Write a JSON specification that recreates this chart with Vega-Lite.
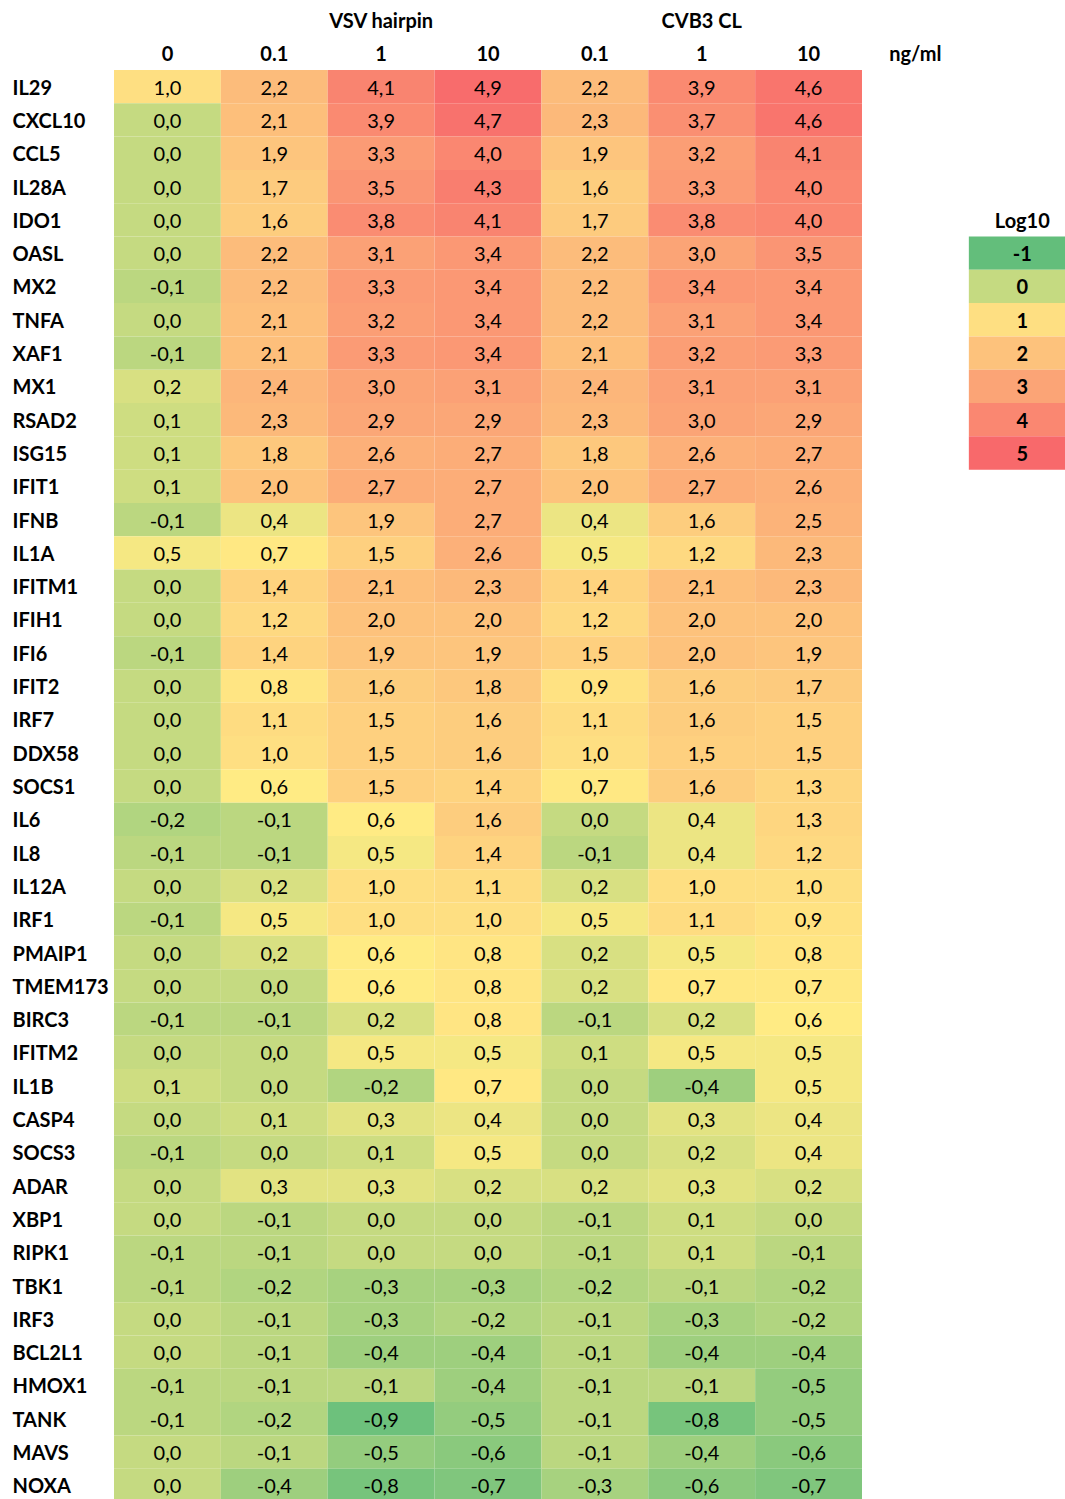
{
  "$schema": "https://vega.github.io/schema/vega-lite/v6.json",
  "autosize": {"type": "none"},
  "padding": {"left": 114, "top": 70, "right": 0, "bottom": 0},
  "width": 951,
  "height": 1429,
  "background": "white",
  "config": {
    "view": {"stroke": null},
    "font": "Lato",
    "locale": {"number": {"decimal": ",", "thousands": ".", "grouping": [3], "currency": ["", ""], "minus": "-"}}
  },
  "datasets": {
    "cells": [
      {"gene":"IL29","col":"VSV 0","value":1.0},{"gene":"IL29","col":"VSV 0.1","value":2.2},{"gene":"IL29","col":"VSV 1","value":4.1},{"gene":"IL29","col":"VSV 10","value":4.9},{"gene":"IL29","col":"CVB3 0.1","value":2.2},{"gene":"IL29","col":"CVB3 1","value":3.9},{"gene":"IL29","col":"CVB3 10","value":4.6},
      {"gene":"CXCL10","col":"VSV 0","value":0.0},{"gene":"CXCL10","col":"VSV 0.1","value":2.1},{"gene":"CXCL10","col":"VSV 1","value":3.9},{"gene":"CXCL10","col":"VSV 10","value":4.7},{"gene":"CXCL10","col":"CVB3 0.1","value":2.3},{"gene":"CXCL10","col":"CVB3 1","value":3.7},{"gene":"CXCL10","col":"CVB3 10","value":4.6},
      {"gene":"CCL5","col":"VSV 0","value":0.0},{"gene":"CCL5","col":"VSV 0.1","value":1.9},{"gene":"CCL5","col":"VSV 1","value":3.3},{"gene":"CCL5","col":"VSV 10","value":4.0},{"gene":"CCL5","col":"CVB3 0.1","value":1.9},{"gene":"CCL5","col":"CVB3 1","value":3.2},{"gene":"CCL5","col":"CVB3 10","value":4.1},
      {"gene":"IL28A","col":"VSV 0","value":0.0},{"gene":"IL28A","col":"VSV 0.1","value":1.7},{"gene":"IL28A","col":"VSV 1","value":3.5},{"gene":"IL28A","col":"VSV 10","value":4.3},{"gene":"IL28A","col":"CVB3 0.1","value":1.6},{"gene":"IL28A","col":"CVB3 1","value":3.3},{"gene":"IL28A","col":"CVB3 10","value":4.0},
      {"gene":"IDO1","col":"VSV 0","value":0.0},{"gene":"IDO1","col":"VSV 0.1","value":1.6},{"gene":"IDO1","col":"VSV 1","value":3.8},{"gene":"IDO1","col":"VSV 10","value":4.1},{"gene":"IDO1","col":"CVB3 0.1","value":1.7},{"gene":"IDO1","col":"CVB3 1","value":3.8},{"gene":"IDO1","col":"CVB3 10","value":4.0},
      {"gene":"OASL","col":"VSV 0","value":0.0},{"gene":"OASL","col":"VSV 0.1","value":2.2},{"gene":"OASL","col":"VSV 1","value":3.1},{"gene":"OASL","col":"VSV 10","value":3.4},{"gene":"OASL","col":"CVB3 0.1","value":2.2},{"gene":"OASL","col":"CVB3 1","value":3.0},{"gene":"OASL","col":"CVB3 10","value":3.5},
      {"gene":"MX2","col":"VSV 0","value":-0.1},{"gene":"MX2","col":"VSV 0.1","value":2.2},{"gene":"MX2","col":"VSV 1","value":3.3},{"gene":"MX2","col":"VSV 10","value":3.4},{"gene":"MX2","col":"CVB3 0.1","value":2.2},{"gene":"MX2","col":"CVB3 1","value":3.4},{"gene":"MX2","col":"CVB3 10","value":3.4},
      {"gene":"TNFA","col":"VSV 0","value":0.0},{"gene":"TNFA","col":"VSV 0.1","value":2.1},{"gene":"TNFA","col":"VSV 1","value":3.2},{"gene":"TNFA","col":"VSV 10","value":3.4},{"gene":"TNFA","col":"CVB3 0.1","value":2.2},{"gene":"TNFA","col":"CVB3 1","value":3.1},{"gene":"TNFA","col":"CVB3 10","value":3.4},
      {"gene":"XAF1","col":"VSV 0","value":-0.1},{"gene":"XAF1","col":"VSV 0.1","value":2.1},{"gene":"XAF1","col":"VSV 1","value":3.3},{"gene":"XAF1","col":"VSV 10","value":3.4},{"gene":"XAF1","col":"CVB3 0.1","value":2.1},{"gene":"XAF1","col":"CVB3 1","value":3.2},{"gene":"XAF1","col":"CVB3 10","value":3.3},
      {"gene":"MX1","col":"VSV 0","value":0.2},{"gene":"MX1","col":"VSV 0.1","value":2.4},{"gene":"MX1","col":"VSV 1","value":3.0},{"gene":"MX1","col":"VSV 10","value":3.1},{"gene":"MX1","col":"CVB3 0.1","value":2.4},{"gene":"MX1","col":"CVB3 1","value":3.1},{"gene":"MX1","col":"CVB3 10","value":3.1},
      {"gene":"RSAD2","col":"VSV 0","value":0.1},{"gene":"RSAD2","col":"VSV 0.1","value":2.3},{"gene":"RSAD2","col":"VSV 1","value":2.9},{"gene":"RSAD2","col":"VSV 10","value":2.9},{"gene":"RSAD2","col":"CVB3 0.1","value":2.3},{"gene":"RSAD2","col":"CVB3 1","value":3.0},{"gene":"RSAD2","col":"CVB3 10","value":2.9},
      {"gene":"ISG15","col":"VSV 0","value":0.1},{"gene":"ISG15","col":"VSV 0.1","value":1.8},{"gene":"ISG15","col":"VSV 1","value":2.6},{"gene":"ISG15","col":"VSV 10","value":2.7},{"gene":"ISG15","col":"CVB3 0.1","value":1.8},{"gene":"ISG15","col":"CVB3 1","value":2.6},{"gene":"ISG15","col":"CVB3 10","value":2.7},
      {"gene":"IFIT1","col":"VSV 0","value":0.1},{"gene":"IFIT1","col":"VSV 0.1","value":2.0},{"gene":"IFIT1","col":"VSV 1","value":2.7},{"gene":"IFIT1","col":"VSV 10","value":2.7},{"gene":"IFIT1","col":"CVB3 0.1","value":2.0},{"gene":"IFIT1","col":"CVB3 1","value":2.7},{"gene":"IFIT1","col":"CVB3 10","value":2.6},
      {"gene":"IFNB","col":"VSV 0","value":-0.1},{"gene":"IFNB","col":"VSV 0.1","value":0.4},{"gene":"IFNB","col":"VSV 1","value":1.9},{"gene":"IFNB","col":"VSV 10","value":2.7},{"gene":"IFNB","col":"CVB3 0.1","value":0.4},{"gene":"IFNB","col":"CVB3 1","value":1.6},{"gene":"IFNB","col":"CVB3 10","value":2.5},
      {"gene":"IL1A","col":"VSV 0","value":0.5},{"gene":"IL1A","col":"VSV 0.1","value":0.7},{"gene":"IL1A","col":"VSV 1","value":1.5},{"gene":"IL1A","col":"VSV 10","value":2.6},{"gene":"IL1A","col":"CVB3 0.1","value":0.5},{"gene":"IL1A","col":"CVB3 1","value":1.2},{"gene":"IL1A","col":"CVB3 10","value":2.3},
      {"gene":"IFITM1","col":"VSV 0","value":0.0},{"gene":"IFITM1","col":"VSV 0.1","value":1.4},{"gene":"IFITM1","col":"VSV 1","value":2.1},{"gene":"IFITM1","col":"VSV 10","value":2.3},{"gene":"IFITM1","col":"CVB3 0.1","value":1.4},{"gene":"IFITM1","col":"CVB3 1","value":2.1},{"gene":"IFITM1","col":"CVB3 10","value":2.3},
      {"gene":"IFIH1","col":"VSV 0","value":0.0},{"gene":"IFIH1","col":"VSV 0.1","value":1.2},{"gene":"IFIH1","col":"VSV 1","value":2.0},{"gene":"IFIH1","col":"VSV 10","value":2.0},{"gene":"IFIH1","col":"CVB3 0.1","value":1.2},{"gene":"IFIH1","col":"CVB3 1","value":2.0},{"gene":"IFIH1","col":"CVB3 10","value":2.0},
      {"gene":"IFI6","col":"VSV 0","value":-0.1},{"gene":"IFI6","col":"VSV 0.1","value":1.4},{"gene":"IFI6","col":"VSV 1","value":1.9},{"gene":"IFI6","col":"VSV 10","value":1.9},{"gene":"IFI6","col":"CVB3 0.1","value":1.5},{"gene":"IFI6","col":"CVB3 1","value":2.0},{"gene":"IFI6","col":"CVB3 10","value":1.9},
      {"gene":"IFIT2","col":"VSV 0","value":0.0},{"gene":"IFIT2","col":"VSV 0.1","value":0.8},{"gene":"IFIT2","col":"VSV 1","value":1.6},{"gene":"IFIT2","col":"VSV 10","value":1.8},{"gene":"IFIT2","col":"CVB3 0.1","value":0.9},{"gene":"IFIT2","col":"CVB3 1","value":1.6},{"gene":"IFIT2","col":"CVB3 10","value":1.7},
      {"gene":"IRF7","col":"VSV 0","value":0.0},{"gene":"IRF7","col":"VSV 0.1","value":1.1},{"gene":"IRF7","col":"VSV 1","value":1.5},{"gene":"IRF7","col":"VSV 10","value":1.6},{"gene":"IRF7","col":"CVB3 0.1","value":1.1},{"gene":"IRF7","col":"CVB3 1","value":1.6},{"gene":"IRF7","col":"CVB3 10","value":1.5},
      {"gene":"DDX58","col":"VSV 0","value":0.0},{"gene":"DDX58","col":"VSV 0.1","value":1.0},{"gene":"DDX58","col":"VSV 1","value":1.5},{"gene":"DDX58","col":"VSV 10","value":1.6},{"gene":"DDX58","col":"CVB3 0.1","value":1.0},{"gene":"DDX58","col":"CVB3 1","value":1.5},{"gene":"DDX58","col":"CVB3 10","value":1.5},
      {"gene":"SOCS1","col":"VSV 0","value":0.0},{"gene":"SOCS1","col":"VSV 0.1","value":0.6},{"gene":"SOCS1","col":"VSV 1","value":1.5},{"gene":"SOCS1","col":"VSV 10","value":1.4},{"gene":"SOCS1","col":"CVB3 0.1","value":0.7},{"gene":"SOCS1","col":"CVB3 1","value":1.6},{"gene":"SOCS1","col":"CVB3 10","value":1.3},
      {"gene":"IL6","col":"VSV 0","value":-0.2},{"gene":"IL6","col":"VSV 0.1","value":-0.1},{"gene":"IL6","col":"VSV 1","value":0.6},{"gene":"IL6","col":"VSV 10","value":1.6},{"gene":"IL6","col":"CVB3 0.1","value":0.0},{"gene":"IL6","col":"CVB3 1","value":0.4},{"gene":"IL6","col":"CVB3 10","value":1.3},
      {"gene":"IL8","col":"VSV 0","value":-0.1},{"gene":"IL8","col":"VSV 0.1","value":-0.1},{"gene":"IL8","col":"VSV 1","value":0.5},{"gene":"IL8","col":"VSV 10","value":1.4},{"gene":"IL8","col":"CVB3 0.1","value":-0.1},{"gene":"IL8","col":"CVB3 1","value":0.4},{"gene":"IL8","col":"CVB3 10","value":1.2},
      {"gene":"IL12A","col":"VSV 0","value":0.0},{"gene":"IL12A","col":"VSV 0.1","value":0.2},{"gene":"IL12A","col":"VSV 1","value":1.0},{"gene":"IL12A","col":"VSV 10","value":1.1},{"gene":"IL12A","col":"CVB3 0.1","value":0.2},{"gene":"IL12A","col":"CVB3 1","value":1.0},{"gene":"IL12A","col":"CVB3 10","value":1.0},
      {"gene":"IRF1","col":"VSV 0","value":-0.1},{"gene":"IRF1","col":"VSV 0.1","value":0.5},{"gene":"IRF1","col":"VSV 1","value":1.0},{"gene":"IRF1","col":"VSV 10","value":1.0},{"gene":"IRF1","col":"CVB3 0.1","value":0.5},{"gene":"IRF1","col":"CVB3 1","value":1.1},{"gene":"IRF1","col":"CVB3 10","value":0.9},
      {"gene":"PMAIP1","col":"VSV 0","value":0.0},{"gene":"PMAIP1","col":"VSV 0.1","value":0.2},{"gene":"PMAIP1","col":"VSV 1","value":0.6},{"gene":"PMAIP1","col":"VSV 10","value":0.8},{"gene":"PMAIP1","col":"CVB3 0.1","value":0.2},{"gene":"PMAIP1","col":"CVB3 1","value":0.5},{"gene":"PMAIP1","col":"CVB3 10","value":0.8},
      {"gene":"TMEM173","col":"VSV 0","value":0.0},{"gene":"TMEM173","col":"VSV 0.1","value":0.0},{"gene":"TMEM173","col":"VSV 1","value":0.6},{"gene":"TMEM173","col":"VSV 10","value":0.8},{"gene":"TMEM173","col":"CVB3 0.1","value":0.2},{"gene":"TMEM173","col":"CVB3 1","value":0.7},{"gene":"TMEM173","col":"CVB3 10","value":0.7},
      {"gene":"BIRC3","col":"VSV 0","value":-0.1},{"gene":"BIRC3","col":"VSV 0.1","value":-0.1},{"gene":"BIRC3","col":"VSV 1","value":0.2},{"gene":"BIRC3","col":"VSV 10","value":0.8},{"gene":"BIRC3","col":"CVB3 0.1","value":-0.1},{"gene":"BIRC3","col":"CVB3 1","value":0.2},{"gene":"BIRC3","col":"CVB3 10","value":0.6},
      {"gene":"IFITM2","col":"VSV 0","value":0.0},{"gene":"IFITM2","col":"VSV 0.1","value":0.0},{"gene":"IFITM2","col":"VSV 1","value":0.5},{"gene":"IFITM2","col":"VSV 10","value":0.5},{"gene":"IFITM2","col":"CVB3 0.1","value":0.1},{"gene":"IFITM2","col":"CVB3 1","value":0.5},{"gene":"IFITM2","col":"CVB3 10","value":0.5},
      {"gene":"IL1B","col":"VSV 0","value":0.1},{"gene":"IL1B","col":"VSV 0.1","value":0.0},{"gene":"IL1B","col":"VSV 1","value":-0.2},{"gene":"IL1B","col":"VSV 10","value":0.7},{"gene":"IL1B","col":"CVB3 0.1","value":0.0},{"gene":"IL1B","col":"CVB3 1","value":-0.4},{"gene":"IL1B","col":"CVB3 10","value":0.5},
      {"gene":"CASP4","col":"VSV 0","value":0.0},{"gene":"CASP4","col":"VSV 0.1","value":0.1},{"gene":"CASP4","col":"VSV 1","value":0.3},{"gene":"CASP4","col":"VSV 10","value":0.4},{"gene":"CASP4","col":"CVB3 0.1","value":0.0},{"gene":"CASP4","col":"CVB3 1","value":0.3},{"gene":"CASP4","col":"CVB3 10","value":0.4},
      {"gene":"SOCS3","col":"VSV 0","value":-0.1},{"gene":"SOCS3","col":"VSV 0.1","value":0.0},{"gene":"SOCS3","col":"VSV 1","value":0.1},{"gene":"SOCS3","col":"VSV 10","value":0.5},{"gene":"SOCS3","col":"CVB3 0.1","value":0.0},{"gene":"SOCS3","col":"CVB3 1","value":0.2},{"gene":"SOCS3","col":"CVB3 10","value":0.4},
      {"gene":"ADAR","col":"VSV 0","value":0.0},{"gene":"ADAR","col":"VSV 0.1","value":0.3},{"gene":"ADAR","col":"VSV 1","value":0.3},{"gene":"ADAR","col":"VSV 10","value":0.2},{"gene":"ADAR","col":"CVB3 0.1","value":0.2},{"gene":"ADAR","col":"CVB3 1","value":0.3},{"gene":"ADAR","col":"CVB3 10","value":0.2},
      {"gene":"XBP1","col":"VSV 0","value":0.0},{"gene":"XBP1","col":"VSV 0.1","value":-0.1},{"gene":"XBP1","col":"VSV 1","value":0.0},{"gene":"XBP1","col":"VSV 10","value":0.0},{"gene":"XBP1","col":"CVB3 0.1","value":-0.1},{"gene":"XBP1","col":"CVB3 1","value":0.1},{"gene":"XBP1","col":"CVB3 10","value":0.0},
      {"gene":"RIPK1","col":"VSV 0","value":-0.1},{"gene":"RIPK1","col":"VSV 0.1","value":-0.1},{"gene":"RIPK1","col":"VSV 1","value":0.0},{"gene":"RIPK1","col":"VSV 10","value":0.0},{"gene":"RIPK1","col":"CVB3 0.1","value":-0.1},{"gene":"RIPK1","col":"CVB3 1","value":0.1},{"gene":"RIPK1","col":"CVB3 10","value":-0.1},
      {"gene":"TBK1","col":"VSV 0","value":-0.1},{"gene":"TBK1","col":"VSV 0.1","value":-0.2},{"gene":"TBK1","col":"VSV 1","value":-0.3},{"gene":"TBK1","col":"VSV 10","value":-0.3},{"gene":"TBK1","col":"CVB3 0.1","value":-0.2},{"gene":"TBK1","col":"CVB3 1","value":-0.1},{"gene":"TBK1","col":"CVB3 10","value":-0.2},
      {"gene":"IRF3","col":"VSV 0","value":0.0},{"gene":"IRF3","col":"VSV 0.1","value":-0.1},{"gene":"IRF3","col":"VSV 1","value":-0.3},{"gene":"IRF3","col":"VSV 10","value":-0.2},{"gene":"IRF3","col":"CVB3 0.1","value":-0.1},{"gene":"IRF3","col":"CVB3 1","value":-0.3},{"gene":"IRF3","col":"CVB3 10","value":-0.2},
      {"gene":"BCL2L1","col":"VSV 0","value":0.0},{"gene":"BCL2L1","col":"VSV 0.1","value":-0.1},{"gene":"BCL2L1","col":"VSV 1","value":-0.4},{"gene":"BCL2L1","col":"VSV 10","value":-0.4},{"gene":"BCL2L1","col":"CVB3 0.1","value":-0.1},{"gene":"BCL2L1","col":"CVB3 1","value":-0.4},{"gene":"BCL2L1","col":"CVB3 10","value":-0.4},
      {"gene":"HMOX1","col":"VSV 0","value":-0.1},{"gene":"HMOX1","col":"VSV 0.1","value":-0.1},{"gene":"HMOX1","col":"VSV 1","value":-0.1},{"gene":"HMOX1","col":"VSV 10","value":-0.4},{"gene":"HMOX1","col":"CVB3 0.1","value":-0.1},{"gene":"HMOX1","col":"CVB3 1","value":-0.1},{"gene":"HMOX1","col":"CVB3 10","value":-0.5},
      {"gene":"TANK","col":"VSV 0","value":-0.1},{"gene":"TANK","col":"VSV 0.1","value":-0.2},{"gene":"TANK","col":"VSV 1","value":-0.9},{"gene":"TANK","col":"VSV 10","value":-0.5},{"gene":"TANK","col":"CVB3 0.1","value":-0.1},{"gene":"TANK","col":"CVB3 1","value":-0.8},{"gene":"TANK","col":"CVB3 10","value":-0.5},
      {"gene":"MAVS","col":"VSV 0","value":0.0},{"gene":"MAVS","col":"VSV 0.1","value":-0.1},{"gene":"MAVS","col":"VSV 1","value":-0.5},{"gene":"MAVS","col":"VSV 10","value":-0.6},{"gene":"MAVS","col":"CVB3 0.1","value":-0.1},{"gene":"MAVS","col":"CVB3 1","value":-0.4},{"gene":"MAVS","col":"CVB3 10","value":-0.6},
      {"gene":"NOXA","col":"VSV 0","value":0.0},{"gene":"NOXA","col":"VSV 0.1","value":-0.4},{"gene":"NOXA","col":"VSV 1","value":-0.8},{"gene":"NOXA","col":"VSV 10","value":-0.7},{"gene":"NOXA","col":"CVB3 0.1","value":-0.3},{"gene":"NOXA","col":"CVB3 1","value":-0.6},{"gene":"NOXA","col":"CVB3 10","value":-0.7}
    ],
    "legendCells": [
      {"gene":"OASL","col":"legend","value":-1},
      {"gene":"MX2","col":"legend","value":0},
      {"gene":"TNFA","col":"legend","value":1},
      {"gene":"XAF1","col":"legend","value":2},
      {"gene":"MX1","col":"legend","value":3},
      {"gene":"RSAD2","col":"legend","value":4},
      {"gene":"ISG15","col":"legend","value":5}
    ],
    "legendTitle": [
      {"gene":"IDO1","col":"legend","label":"Log10"}
    ]
  },
  "encoding": {
    "x": {
      "field": "col", "type": "nominal",
      "scale": {
        "domain": ["VSV 0","VSV 0.1","VSV 1","VSV 10","CVB3 0.1","CVB3 1","CVB3 10","unit","legend"],
        "range": [0, 961.7],
        "paddingInner": 0, "paddingOuter": 0
      },
      "axis": {
        "orient": "top", "title": null, "ticks": false, "domain": false, "labelAngle": 0,
        "labelFont": "Lato", "labelFontSize": 20, "labelFontWeight": "bold", "labelColor": "#000000",
        "labelPadding": 39, "labelBaseline": "bottom", "labelLineHeight": 33, "labelLimit": 0, "labelOverlap": false,
        "labelExpr": "{'VSV 0':['','0'],'VSV 0.1':['','0.1'],'VSV 1':['VSV hairpin','1'],'VSV 10':['','10'],'CVB3 0.1':['','0.1'],'CVB3 1':['CVB3 CL','1'],'CVB3 10':['','10'],'unit':['','ng/ml'],'legend':['','']}[datum.value]"
      }
    },
    "y": {
      "field": "gene", "type": "nominal",
      "scale": {
        "domain": ["IL29","CXCL10","CCL5","IL28A","IDO1","OASL","MX2","TNFA","XAF1","MX1","RSAD2","ISG15","IFIT1","IFNB","IL1A","IFITM1","IFIH1","IFI6","IFIT2","IRF7","DDX58","SOCS1","IL6","IL8","IL12A","IRF1","PMAIP1","TMEM173","BIRC3","IFITM2","IL1B","CASP4","SOCS3","ADAR","XBP1","RIPK1","TBK1","IRF3","BCL2L1","HMOX1","TANK","MAVS","NOXA"],
        "range": [0, 1432],
        "paddingInner": 0, "paddingOuter": 0
      },
      "axis": {
        "orient": "left", "title": null, "ticks": false, "tickSize": 0, "domain": false,
        "labelFont": "Lato", "labelFontSize": 20, "labelFontWeight": "bold", "labelColor": "#000000",
        "labelAlign": "left", "labelPadding": 102, "labelLimit": 0, "labelOffset": 2
      }
    }
  },
  "layer": [
    {
      "data": {"name": "cells"},
      "mark": {"type": "rect"},
      "encoding": {
        "color": {
          "field": "value", "type": "quantitative", "legend": null,
          "scale": {"domain": [-1, 0.6, 5], "range": ["#63BE7B", "#FFEB84", "#F8696B"], "interpolate": "rgb"}
        }
      }
    },
    {
      "data": {"name": "cells"},
      "mark": {"type": "text", "font": "Lato", "fontSize": 20, "color": "#000000", "dy": 2},
      "encoding": {"text": {"field": "value", "type": "quantitative", "format": ".1f"}}
    },
    {
      "data": {"name": "legendCells"},
      "mark": {"type": "rect"},
      "encoding": {
        "color": {"field": "value", "type": "quantitative", "legend": null}
      }
    },
    {
      "data": {"name": "legendCells"},
      "mark": {"type": "text", "font": "Lato", "fontSize": 20, "fontWeight": "bold", "color": "#000000", "dy": 2},
      "encoding": {"text": {"field": "value", "type": "quantitative", "format": "d"}}
    },
    {
      "data": {"name": "legendTitle"},
      "mark": {"type": "text", "font": "Lato", "fontSize": 20, "fontWeight": "bold", "color": "#000000", "dy": 2},
      "encoding": {"text": {"field": "label", "type": "nominal"}}
    }
  ]
}
